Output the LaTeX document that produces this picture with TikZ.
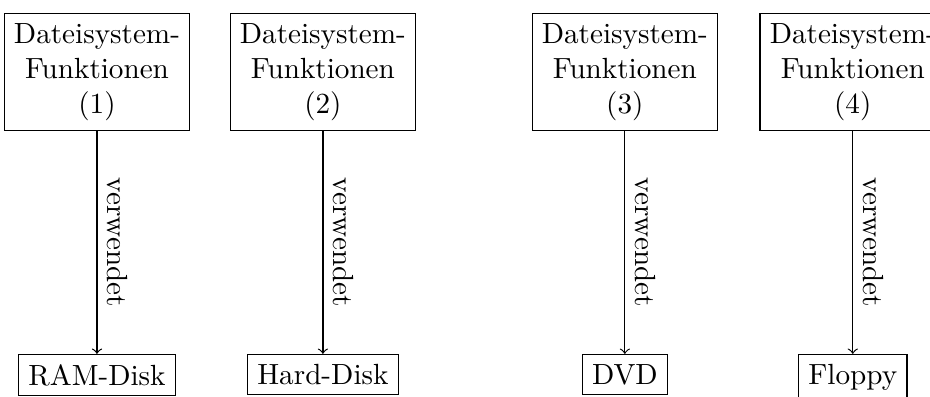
\documentclass[tikz,border=0pt]{standalone}
\usetikzlibrary{arrows}

\begin{document}
\begin{tikzpicture}
            \useasboundingbox (0,0) rectangle (11.2,-4.77);

            \node[draw, align=center, anchor=north] at (1.168,-0.157) (FS1) {Dateisystem-\\Funktionen\\(1)};
            \node[draw, align=center, anchor=north] at (3.889,-0.157) (FS2) {Dateisystem-\\Funktionen\\(2)};
            \node[draw, align=center, anchor=north] at (7.525,-0.157) (FS3) {Dateisystem-\\Funktionen\\(3)};
            \node[draw, align=center, anchor=north] at (10.27,-0.157) (FS4) {Dateisystem-\\Funktionen\\(4)};

            \node[draw, anchor=north] at (1.168,-4.262) (RAM) {RAM-Disk};
            \node[draw, anchor=north] at (3.889,-4.262) (HD) {Hard-Disk};
            \node[draw, anchor=north] at (7.525,-4.262) (DVD) {DVD};
            \node[draw, anchor=north] at (10.27,-4.262) (FLOP) {Floppy};

            \draw[->] (FS1) -- node[midway, anchor=south, rotate=-90] {verwendet} (RAM);
            \draw[->] (FS2) -- node[midway, anchor=south, rotate=-90] {verwendet} (HD);
            \draw[->] (FS3) -- node[midway, anchor=south, rotate=-90] {verwendet} (DVD);
            \draw[->] (FS4) -- node[midway, anchor=south, rotate=-90] {verwendet} (FLOP);
        \end{tikzpicture}
\end{document}
